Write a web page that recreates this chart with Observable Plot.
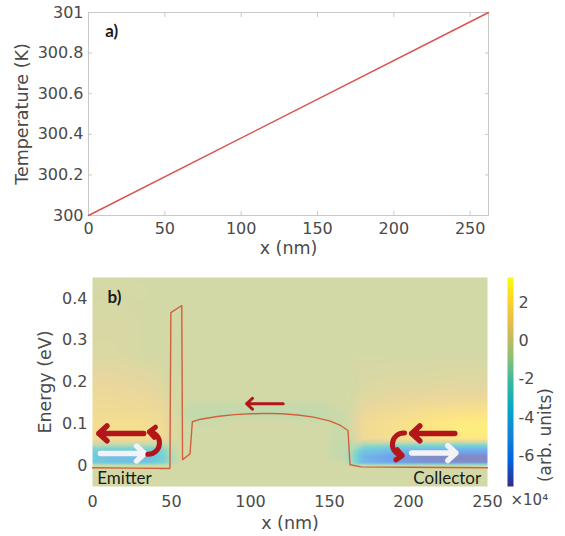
<!DOCTYPE html>
<html><head><meta charset="utf-8">
<script src="https://cdn.jsdelivr.net/npm/d3@7"></script>
<script src="https://cdn.jsdelivr.net/npm/@observablehq/plot@0.6"></script>
<style>
body{margin:0;background:#fff;}
#root{position:relative;width:565px;height:536px;overflow:hidden;background:#fff;}
#root svg{position:absolute;overflow:visible;}
#root g[aria-label="x-axis label"] text, #root g[aria-label="y-axis label"] text{font-size:17.5px;}
</style></head><body><div id="root"></div>
<script>
// ---------- Panel a: temperature profile ----------
const tempX = [0, 262];
const tempK = [300, 301];
const tempYTicks = [300, 300.2, 300.4, 300.6, 300.8, 301];
const xTicksA = [0, 50, 100, 150, 200, 250];

// ---------- Panel b: conduction band profile ----------
const bandX = [0, 25, 49, 49.6, 56.5, 57, 61.7, 63.2, 68.5, 80, 90, 100, 110, 120, 130, 140, 150, 157, 161.7, 163, 170, 200, 250];
const bandE = [-0.005, -0.006, -0.007, 0.366, 0.383, 0.014, 0.028, 0.105, 0.111, 0.118, 0.122, 0.124, 0.125, 0.124, 0.121, 0.116, 0.107, 0.096, 0.084, 0.002, -0.003, -0.004, -0.005];
const xTicksB = [0, 50, 100, 150, 200, 250];
const eTicks = [0, 0.1, 0.2, 0.3, 0.4];

// colour bar (x10^4 arb. units)
const cbDomain = [-7.6, 3.3];
const cbTicks = [2, 0, -2, -4, -6];

// heat map samples (x10^4 arb. units)
const heatX = [0, 12, 25, 36, 44, 49, 56, 64, 90, 120, 145, 158, 164, 172, 190, 210, 230, 250];
const heatY = [-0.05, 0.0, 0.008, 0.022, 0.038, 0.05, 0.065, 0.085, 0.105, 0.125, 0.145, 0.17, 0.21, 0.27, 0.45];
const B = -0.15;
const heatV = [
  [B, B, B, B, B, B, B, B, B, B, B, B, B, B, B, B, B, B],
  [B, B, B, B, B, B, B, B, B, B, B, B, B, B, B, B, B, B],
  [-3.6, -4.2, -4.2, -4.0, -3, -1.5, B, B, B, B, B, B, -1.5, -5, -6.3, -7, -7.3, -7.3],
  [-3.6, -4.4, -4.4, -4.2, -3.2, -1.5, B, B, B, B, B, -0.7, -1.5, -5.2, -6.5, -7.2, -7.4, -7.4],
  [-2.8, -3.3, -3.3, -3.0, -2.5, -1.2, B, B, B, B, B, -0.7, -1.2, -3.5, -4.5, -5, -5.5, -5.5],
  [-0.5, -0.8, -0.8, -0.8, -0.8, -0.6, B, B, B, B, B, -0.7, -0.8, -1.5, -1.8, -2, -2.2, -2.2],
  [1.2, 1.3, 1.3, 1.3, 1.0, 0.4, B, B, B, B, B, -0.6, -0.3, 1.0, 1.4, 1.8, 2.2, 2.3],
  [1.3, 1.4, 1.4, 1.4, 1.1, 0.5, B, B, B, B, B, -0.6, 0.0, 1.1, 1.5, 2.0, 2.4, 2.5],
  [1.2, 1.3, 1.3, 1.2, 1.0, 0.4, B, -0.5, B, B, -0.4, -0.5, 0.0, 1.0, 1.4, 1.9, 2.3, 2.4],
  [1.1, 1.1, 1.1, 1.0, 0.8, 0.3, -0.5, -0.8, -0.8, -0.8, -0.7, -0.4, 0.0, 0.8, 1.1, 1.5, 1.8, 1.9],
  [1.0, 1.0, 0.9, 0.8, 0.6, 0.2, B, -0.5, -0.5, -0.5, -0.5, B, -0.1, 0.5, 0.8, 1.0, 1.2, 1.3],
  [0.8, 0.8, 0.7, 0.6, 0.4, 0.0, B, B, B, B, B, B, -0.1, 0.2, 0.4, 0.5, 0.6, 0.6],
  [0.5, 0.5, 0.4, 0.3, 0.1, B, B, B, B, B, B, B, B, 0.0, 0.1, 0.1, 0.2, 0.2],
  [0.1, 0.1, 0.0, B, B, B, B, B, B, B, B, B, B, B, B, B, B, B],
  [B, B, B, B, B, B, B, B, B, B, B, B, B, B, B, B, B, B]
];

// annotation arrows (data coordinates)
const arrowsRed = [{x1: 32.4, y1: 0.077, x2: 4, y2: 0.077}, {x1: 229.3, y1: 0.077, x2: 202, y2: 0.077}];
const arrowsWhite = [{x1: 5, y1: 0.029, x2: 33, y2: 0.029}, {x1: 202, y1: 0.030, x2: 230, y2: 0.030}];
const curlEmitter = [{x1: 35, y1: 0.027, x2: 36, y2: 0.081}];
const curlCollector = [{x1: 197.5, y1: 0.078, x2: 196, y2: 0.024}];
const arrowMid = [{x1: 120.7, y1: 0.148, x2: 97.5, y2: 0.148}];

const parula = ["#352a87", "#0363e1", "#1485d4", "#06a7c6", "#38b99e", "#92bf73", "#d9ba56", "#fcce2e", "#f9fb0e"];
const parulaI = d3.piecewise(d3.interpolateRgb, parula);
const washed = parula.map(c => d3.interpolateRgb(c, "#ffffff")(0.42));
const washedI = d3.piecewise(d3.interpolateRgb, washed);

const baseStyle = {fontFamily: "DejaVu Sans", fontSize: "16px", color: "#4a4a4a", background: "transparent", overflow: "visible"};
const fmt = d3.format("~f");
const root = document.getElementById("root");
const red = "#b3161a";

// ---------- Panel a ----------
const tempPts = tempX.map((x, i) => ({x, k: tempK[i]}));
const plotA = Plot.plot({
  width: 500, height: 260,
  marginLeft: 88, marginRight: 12, marginTop: 12, marginBottom: 45,
  style: baseStyle,
  x: {domain: [0, 262]},
  y: {domain: [300, 301]},
  marks: [
    Plot.frame({stroke: "#c8c8c8"}),
    Plot.axisX({anchor: "bottom", ticks: xTicksA, tickSize: 0, tickPadding: 7, label: "x (nm)", labelArrow: "none", labelAnchor: "center", labelOffset: 38}),
    Plot.axisY({anchor: "left", ticks: tempYTicks, tickFormat: fmt, tickSize: 0, tickPadding: 5, label: "Temperature (K)", labelArrow: "none", labelAnchor: "center", labelOffset: 73}),
    Plot.axisX({anchor: "bottom", ticks: xTicksA, tickSize: -4, tickFormat: () => "", label: null, stroke: "#c8c8c8"}),
    Plot.axisX({anchor: "top", ticks: xTicksA, tickSize: -4, tickFormat: () => "", label: null, stroke: "#c8c8c8"}),
    Plot.axisY({anchor: "left", ticks: tempYTicks, tickSize: -4, tickFormat: () => "", label: null, stroke: "#c8c8c8"}),
    Plot.axisY({anchor: "right", ticks: tempYTicks, tickSize: -4, tickFormat: () => "", label: null, stroke: "#c8c8c8"}),
    Plot.line(tempPts, {x: "x", y: "k", stroke: "#d9534f", strokeWidth: 1.5}),
    Plot.text(["a)"], {x: 11, y: 300.905, text: d => d, textAnchor: "start", fontFamily: "Lato", fontWeight: "bold", fontSize: 17, fill: "#1a1a1a"})
  ]
});
plotA.style.left = "0px"; plotA.style.top = "0px";
root.appendChild(plotA);

// ---------- Panel b ----------
const heatPts = [];
heatY.forEach((y, j) => heatX.forEach((x, i) => heatPts.push({x, y, v: heatV[j][i]})));
const bandPts = bandX.map((x, i) => ({x, e: bandE[i]}));

const plotB = Plot.plot({
  width: 500, height: 276,
  marginLeft: 92, marginRight: 13, marginTop: 17, marginBottom: 50,
  style: baseStyle,
  x: {domain: [0, 250]},
  y: {domain: [-0.05, 0.45]},
  color: {type: "linear", domain: cbDomain, interpolate: t => washedI(t)},
  marks: [
    Plot.raster(heatPts, {x: "x", y: "y", fill: "v", interpolate: "barycentric", x1: 0, x2: 250, y1: -0.05, y2: 0.45}),
    Plot.line(bandPts, {x: "x", y: "e", stroke: "#d2603c", strokeWidth: 1.4}),
    Plot.arrow(arrowsRed, {x1: "x1", y1: "y1", x2: "x2", y2: "y2", stroke: red, strokeWidth: 5.5, headLength: 3, headAngle: 85}),
    Plot.arrow(arrowsWhite, {x1: "x1", y1: "y1", x2: "x2", y2: "y2", stroke: "#f2f2f7", strokeWidth: 5.5, headLength: 3, headAngle: 85}),
    Plot.arrow(curlEmitter, {x1: "x1", y1: "y1", x2: "x2", y2: "y2", stroke: red, strokeWidth: 5, headLength: 3, headAngle: 85, bend: -88}),
    Plot.arrow(curlCollector, {x1: "x1", y1: "y1", x2: "x2", y2: "y2", stroke: red, strokeWidth: 5, headLength: 3, headAngle: 85, bend: -88}),
    Plot.arrow(arrowMid, {x1: "x1", y1: "y1", x2: "x2", y2: "y2", stroke: red, strokeWidth: 3, headLength: 4, headAngle: 85}),
    Plot.axisX({anchor: "bottom", ticks: xTicksB, tickSize: 0, tickPadding: 9, label: "x (nm)", labelArrow: "none", labelAnchor: "center", labelOffset: 42}),
    Plot.axisY({anchor: "left", ticks: eTicks, tickFormat: d3.format("~g"), tickSize: 0, tickPadding: 5, label: "Energy (eV)", labelArrow: "none", labelAnchor: "center", labelOffset: 54}),
    Plot.text(["b)"], {x: 9.5, y: 0.401, text: d => d, textAnchor: "start", fontFamily: "Lato", fontWeight: "bold", fontSize: 17, fill: "#1a1a1a"}),
    Plot.text(["Emitter"], {x: 3, y: -0.031, text: d => d, textAnchor: "start", fontFamily: "Lato", fontSize: 17, fill: "#1a1a1a"}),
    Plot.text(["Collector"], {x: 246, y: -0.031, text: d => d, textAnchor: "end", fontFamily: "Lato", fontSize: 17, fill: "#1a1a1a"})
  ]
});
plotB.style.left = "0px"; plotB.style.top = "260px";
root.appendChild(plotB);

// ---------- Colour bar ----------
const plotC = Plot.plot({
  width: 75, height: 276,
  marginLeft: 17, marginRight: 52, marginTop: 17, marginBottom: 50,
  style: baseStyle,
  x: {domain: [0, 1], axis: null},
  y: {domain: cbDomain},
  color: {type: "linear", domain: cbDomain, interpolate: t => parulaI(t)},
  marks: [
    Plot.raster({fill: (x, y) => y, x1: 0, x2: 1, y1: cbDomain[0], y2: cbDomain[1]}),
    Plot.axisY({anchor: "right", ticks: cbTicks, tickFormat: d => String(d), tickSize: 0, tickPadding: 5, label: null}),
    Plot.text(["(arb. units)"], {frameAnchor: "right", text: d => d, dx: 32, dy: 6, rotate: -90, fill: "#4a4a4a", fontSize: 17}),
    Plot.text(["×10⁴"], {frameAnchor: "bottom-left", text: d => d, dx: 3, dy: 18, textAnchor: "start", fill: "#4a4a4a", fontSize: 15})
  ]
});
plotC.style.left = "490px"; plotC.style.top = "260px";
root.appendChild(plotC);
</script></body></html>
